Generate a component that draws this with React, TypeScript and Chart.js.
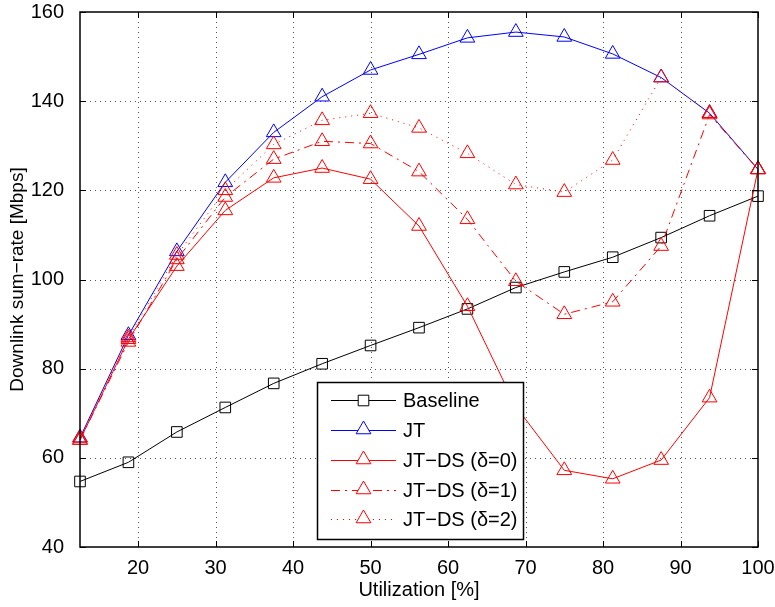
import React, { useEffect, useRef } from "react";
import { Chart, registerables } from "chart.js";

Chart.register(...registerables);

const utilization = [12.5, 18.75, 25, 31.25, 37.5, 43.75, 50, 56.25, 62.5, 68.75, 75, 81.25, 87.5, 93.75, 100];
const baseline = [54.7, 59.0, 65.8, 71.3, 76.7, 81.1, 85.2, 89.2, 93.4, 98.2, 101.7, 105.0, 109.4, 114.3, 118.7];
const jt = [64.5, 87.5, 106.3, 121.8, 133.0, 141.0, 147.0, 150.5, 154.2, 155.5, 154.4, 150.6, 145.3, 137.3, 124.7];
const jtds0 = [64.0, 86.6, 103.0, 115.5, 122.8, 125.0, 122.5, 112.0, 94.0, 71.5, 57.2, 55.3, 59.5, 73.5, 124.7];
const jtds1 = [64.0, 86.0, 104.5, 118.5, 127.0, 131.0, 130.5, 124.2, 113.5, 99.6, 92.2, 95.0, 107.5, 137.0, 124.7];
const jtds2 = [64.5, 87.0, 105.5, 120.0, 130.3, 135.7, 137.3, 134.0, 128.3, 121.3, 119.6, 126.8, 145.3, 137.3, 124.7];
const seriesLabels = ["Baseline", "JT", "JT\u2212DS (\u03b4=0)", "JT\u2212DS (\u03b4=1)", "JT\u2212DS (\u03b4=2)"];
const xTicks = [20, 30, 40, 50, 60, 70, 80, 90, 100];
const yTicks = [40, 60, 80, 100, 120, 140, 160];

const FONT = "'Liberation Sans', Arial, Helvetica, sans-serif";

const toPts = (ys: number[]) => ys.map((y, i) => ({ x: utilization[i], y }));

const framePlugin = {
  id: "framePlugin",
  beforeDatasetsDraw(chart: any) {
    const { ctx, chartArea: a, scales } = chart;
    ctx.save();
    ctx.strokeStyle = "#555";
    ctx.lineWidth = 1;
    ctx.setLineDash([1, 4]);
    xTicks.forEach((v) => {
      if (v >= 100) return;
      const px = Math.round(scales.x.getPixelForValue(v)) + 0.5;
      ctx.beginPath();
      ctx.moveTo(px, a.top);
      ctx.lineTo(px, a.bottom);
      ctx.stroke();
    });
    yTicks.forEach((v) => {
      if (v <= 40 || v >= 160) return;
      const py = Math.round(scales.y.getPixelForValue(v)) + 0.5;
      ctx.beginPath();
      ctx.moveTo(a.left, py);
      ctx.lineTo(a.right, py);
      ctx.stroke();
    });
    ctx.restore();
  },
  afterDatasetsDraw(chart: any) {
    const { ctx, chartArea: a, scales } = chart;
    ctx.save();
    ctx.strokeStyle = "#000";
    ctx.lineWidth = 1.5;
    ctx.setLineDash([]);
    ctx.strokeRect(a.left, a.top, a.right - a.left, a.bottom - a.top);
    ctx.lineWidth = 1;
    const tl = 6;
    xTicks.forEach((v) => {
      const px = Math.round(scales.x.getPixelForValue(v)) + 0.5;
      ctx.beginPath();
      ctx.moveTo(px, a.bottom);
      ctx.lineTo(px, a.bottom - tl);
      ctx.moveTo(px, a.top);
      ctx.lineTo(px, a.top + tl);
      ctx.stroke();
    });
    yTicks.forEach((v) => {
      const py = Math.round(scales.y.getPixelForValue(v)) + 0.5;
      ctx.beginPath();
      ctx.moveTo(a.left, py);
      ctx.lineTo(a.left + tl, py);
      ctx.moveTo(a.right, py);
      ctx.lineTo(a.right - tl, py);
      ctx.stroke();
    });

    // legend
    const lx = 317.5, ly = 382.5, lw = 206, lh = 157;
    ctx.fillStyle = "#fff";
    ctx.fillRect(lx, ly, lw, lh);
    ctx.lineWidth = 1.5;
    ctx.strokeStyle = "#000";
    ctx.strokeRect(lx, ly, lw, lh);
    const rowY = [400, 430, 460, 490, 519];
    chart.data.datasets.forEach((ds: any, di: number) => {
      const y = rowY[di] + 0.5;
      ctx.strokeStyle = ds.borderColor;
      ctx.lineWidth = 1;
      ctx.setLineDash(ds.borderDash || []);
      ctx.beginPath();
      ctx.moveTo(331, y);
      ctx.lineTo(396, y);
      ctx.stroke();
      ctx.setLineDash([]);
      const cx = 363.5;
      const r = ds.pointRadius;
      ctx.beginPath();
      if (ds.pointStyle === "rect") {
        const s = Math.SQRT1_2 * r;
        ctx.rect(cx - s, y - s, 2 * s, 2 * s);
      } else {
        const cy = y - 1;
        ctx.moveTo(cx, cy - r);
        ctx.lineTo(cx + r * 0.866, cy + r * 0.5);
        ctx.lineTo(cx - r * 0.866, cy + r * 0.5);
        ctx.closePath();
      }
      ctx.fillStyle = "#fff";
      ctx.fill();
      ctx.stroke();
      ctx.fillStyle = "#000";
      ctx.font = `20px ${FONT}`;
      ctx.textBaseline = "middle";
      ctx.textAlign = "left";
      ctx.fillText(seriesLabels[di], 403, y + 1);
    });
    ctx.restore();
  },
};

export default function App() {
  const ref = useRef<HTMLCanvasElement>(null);
  useEffect(() => {
    if (!ref.current) return;
    const common = {
      borderWidth: 1,
      pointBackgroundColor: "rgba(0,0,0,0)",
      pointBorderWidth: 1,
      tension: 0,
      fill: false,
      clip: false,
    };
    const chart = new Chart(ref.current, {
      type: "line",
      data: {
        datasets: [
          { ...common, label: seriesLabels[0], data: toPts(baseline), borderColor: "#000", pointBorderColor: "#000", pointStyle: "rect", pointRadius: 7.5, order: 5 },
          { ...common, label: seriesLabels[1], data: toPts(jt), borderColor: "#0000ff", pointBorderColor: "#0000ff", pointStyle: "triangle", pointRadius: 8.5, order: 4 },
          { ...common, label: seriesLabels[2], data: toPts(jtds0), borderColor: "#ff0000", pointBorderColor: "#ff0000", pointStyle: "triangle", pointRadius: 8.5, order: 3 },
          { ...common, label: seriesLabels[3], data: toPts(jtds1), borderColor: "#ff0000", pointBorderColor: "#ff0000", borderDash: [9, 5, 2, 5], pointStyle: "triangle", pointRadius: 8.5, order: 2 },
          { ...common, label: seriesLabels[4], data: toPts(jtds2), borderColor: "#ff0000", pointBorderColor: "#ff0000", borderDash: [1, 5], pointStyle: "triangle", pointRadius: 8.5, order: 1 },
        ] as any,
      },
      options: {
        animation: false,
        responsive: false,
        maintainAspectRatio: false,
        layout: { padding: { top: 12, right: 17, left: 0, bottom: 0 } },
        plugins: { legend: { display: false }, tooltip: { enabled: false } },
        scales: {
          x: {
            type: "linear",
            min: 12.5,
            max: 100,
            afterBuildTicks: (s: any) => { s.ticks = xTicks.map((v) => ({ value: v })); },
            afterFit: (s: any) => { s.height = 60; s.paddingLeft = 0; s.paddingRight = 0; },
            grid: { display: false },
            border: { display: false },
            ticks: { color: "#000", font: { family: FONT, size: 20 }, padding: 1, maxRotation: 0 },
            title: { display: true, text: "Utilization [%]", color: "#000", font: { family: FONT, size: 20 }, padding: { top: 0, bottom: 5 } },
          },
          y: {
            type: "linear",
            min: 40,
            max: 160,
            afterBuildTicks: (s: any) => { s.ticks = yTicks.map((v) => ({ value: v })); },
            afterFit: (s: any) => { s.width = 80; s.paddingTop = 0; s.paddingBottom = 0; },
            grid: { display: false },
            border: { display: false },
            ticks: { color: "#000", font: { family: FONT, size: 20 }, padding: 8 },
            title: { display: true, text: "Downlink sum\u2212rate [Mbps]", color: "#000", font: { family: FONT, size: 19 }, padding: { top: 6, bottom: 0 } },
          },
        },
      } as any,
      plugins: [framePlugin],
    });
    return () => chart.destroy();
  }, []);
  return (
    <div style={{ position: "absolute", left: 0, top: 0, width: 775, height: 607, background: "#fff" }}>
      <canvas ref={ref} width={775} height={607} style={{ display: "block" }} />
    </div>
  );
}
